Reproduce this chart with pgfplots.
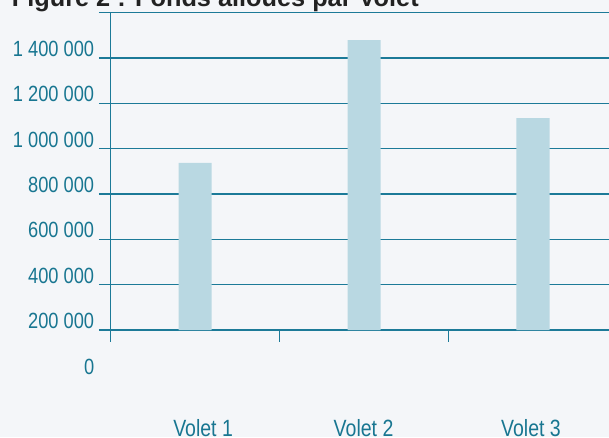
\documentclass[border=0pt]{standalone}
\usepackage{fontspec}
\setmainfont{Liberation Sans}
\newfontfamily\narrowfont{Liberation Sans}[FakeStretch=0.83]
\usepackage{pgfplots}
\pgfplotsset{compat=1.18}
\definecolor{bgcol}{RGB}{244,246,249}
\definecolor{linecol}{RGB}{28,122,152}
\definecolor{labcol}{RGB}{24,118,145}
\definecolor{barcol}{RGB}{185,216,226}
\definecolor{titlecol}{RGB}{34,34,34}

\begin{document}
\begin{tikzpicture}
\fill[bgcol] (0,0) rectangle (609pt,437pt);
\begin{axis}[
  at={(110.7pt,107pt)}, anchor=south west,
  scale only axis,
  width=498.3pt, height=317.3pt,
  xmin=0, xmax=2.95,
  ymin=200000, ymax=1600000,
  axis x line*=bottom, axis y line*=left,
  axis line style={linecol, line width=1.4pt},
  tick style={linecol, line width=1.4pt},
  major tick length=11.7pt, tick align=outside,
  ymajorgrids, major grid style={linecol, line width=1.4pt},
  xtick={0,1,2}, xticklabels={,,},
  ytick={200000,400000,600000,800000,1000000,1200000,1400000,1600000},
  yticklabels={200 000,400 000,600 000,800 000,1 000 000,1 200 000,1 400 000,{}},
  ticklabel style={font=\narrowfont\fontsize{22}{22}\selectfont, text=labcol},
  yticklabel style={yshift=9pt, xshift=-1.3pt},
  extra x ticks={0.547,1.497,2.488},
  extra x tick labels={Volet 1,Volet 2,Volet 3},
  extra x tick style={major tick length=0pt, grid=none,
    xticklabel style={anchor=center, yshift=-98pt,
      font=\narrowfont\fontsize{23.5}{23.5}\selectfont}},
]
\addplot[ybar, bar width=33pt, fill=barcol, draw=none]
  coordinates {(0.5,937000) (1.5,1479000) (2.5,1135000)};
\coordinate (zero) at (axis cs:0,0);
\end{axis}
\node[anchor=east, font=\narrowfont\fontsize{22}{22}\selectfont, text=labcol,
  xshift=-16.3pt, yshift=8.6pt, inner sep=0pt] at (zero) {0};
\node[anchor=base west, inner sep=0pt, text=titlecol,
  font=\bfseries\fontsize{25.3}{25.3}\selectfont] at (11.7pt,430.3pt)
  {Figure 2 : Fonds alloués par Volet};
\pgfresetboundingbox
\useasboundingbox (0,0) rectangle (609pt,437pt);
\end{tikzpicture}
\end{document}
